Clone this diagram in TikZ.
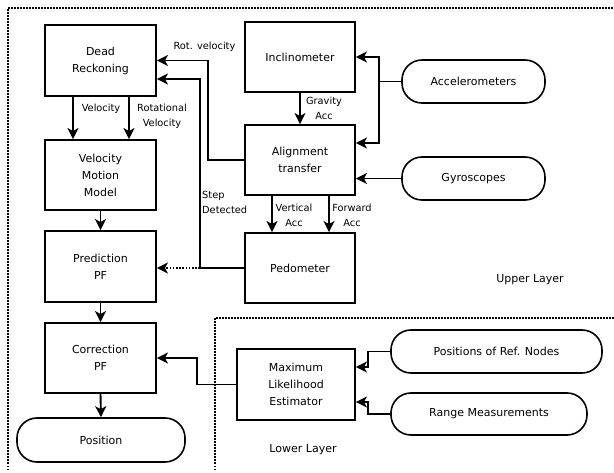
\documentclass[tikz,border=0pt]{standalone}
\usepackage{fontspec}
\setmainfont{DejaVu Sans}
\usetikzlibrary{arrows.meta,shapes.misc}
\begin{document}
\begin{tikzpicture}[x=1pt,y=-1pt,
  box/.style={draw,line width=1.9pt,inner sep=0pt,align=center,font=\fontsize{11}{17}\selectfont},
  pill/.style={draw,line width=1.6pt,rounded corners=20pt,inner sep=0pt,align=center,font=\fontsize{11}{17}\selectfont},
  lbl/.style={inner sep=0pt,align=center,font=\fontsize{9.8}{15}\selectfont},
  arr/.style={line width=1.9pt,-{Stealth[length=11pt,width=11pt,inset=3pt]}},
  con/.style={line width=1.9pt},
  layer/.style={line width=1.5pt,dash pattern=on 1.5pt off 1.5pt}]
\useasboundingbox (0,0) rectangle (614,473);
% layers
\draw[layer] (8,470) -- (8,8) -- (614,8);
\draw[layer] (215,470) -- (215,318) -- (614,318);
% nodes
\node[box,minimum width=111pt,minimum height=71pt] (DR) at (100.5,60.5) {Dead\\Reckoning};
\node[box,minimum width=111pt,minimum height=70pt] (VMM) at (100.5,175) {Velocity\\Motion\\Model};
\node[box,minimum width=111pt,minimum height=71pt] (Pred) at (100.5,266.5) {Prediction\\PF};
\node[box,minimum width=111pt,minimum height=70pt] (Corr) at (100.5,358) {Correction\\PF};
\node[pill,minimum width=168pt,minimum height=44pt] (Pos) at (101,440) {Position};
\node[box,minimum width=110pt,minimum height=70pt] (Incl) at (300,57) {Inclinometer};
\node[box,minimum width=110pt,minimum height=70pt] (Align) at (300,160) {Alignment\\transfer};
\node[box,minimum width=110pt,minimum height=70pt] (Pedo) at (300,268) {Pedometer};
\node[box,minimum width=118pt,minimum height=71pt] (MLE) at (296,384.5) {Maximum\\Likelihood\\Estimator};
\node[pill,minimum width=143pt,minimum height=43pt] (Acc) at (473.5,81.5) {Accelerometers};
\node[pill,minimum width=143pt,minimum height=43pt] (Gyro) at (473.5,178.5) {Gyroscopes};
\node[pill,minimum width=211pt,minimum height=43pt] (PRef) at (496.5,351.5) {Positions of Ref. Nodes};
\node[pill,minimum width=196pt,minimum height=42pt] (Range) at (489,414) {Range Measurements};
% labels
\node[lbl] (lvel) at (101,109) {Velocity};
\node[lbl] (lrot) at (162,116) {Rotational\\Velocity};
\node[lbl] (lrv) at (204.5,47) {Rot. velocity};
\node[lbl,anchor=west,align=left] (lstep) at (202,202) {Step\\Detected};
\node[lbl] (lgrav) at (324,108) {Gravity\\Acc};
\node[lbl] (lvert) at (294,215) {Vertical\\Acc};
\node[lbl] (lfwd) at (352,215) {Forward\\Acc};
\node[font=\fontsize{11}{13}\selectfont] (up) at (530,280) {Upper Layer};
\node[font=\fontsize{11}{13}\selectfont] (low) at (303,450) {Lower Layer};
% connectors
\draw[arr] ([xshift=-27.5pt]DR.south) -- ([xshift=-27.5pt]VMM.north);
\draw[arr] ([xshift=28.5pt]DR.south) -- ([xshift=28.5pt]VMM.north);
\draw[arr] (VMM.south) -- (Pred.north);
\draw[arr] (Pred.south) -- (Corr.north);
\draw[arr] (Corr.south) -- (Pos.north);
\draw[arr] (Align.west) -- ++(-36,0) |- (DR.east);
\coordinate (sd) at (200,268);
\draw[arr] (Pedo.west) -- (sd) |- ([yshift=-18.5pt]DR.east);
\draw[arr,dash pattern=on 1.6pt off 1.6pt] (sd) -- (sd -| Pred.east);
\draw[arr] (Incl.south) -- (Align.north);
\draw[arr] ([xshift=-28pt]Align.south) -- ([xshift=-28pt]Pedo.north);
\draw[arr] ([xshift=29pt]Align.south) -- ([xshift=29pt]Pedo.north);
\coordinate (ja) at (379,81.5);
\draw[con] (Acc.west) -- (ja);
\draw[arr] (ja) |- (Incl.east);
\draw[arr] (ja) |- ([yshift=17pt]Align.east);
\draw[arr] (Gyro.west) -- (Gyro.west -| Align.east);
\draw[arr] (MLE.west) -- ++(-39,0) |- (Corr.east);
\draw[arr] (PRef.west) -- ++(-22,0) |- ([yshift=17.5pt]MLE.east);
\draw[arr] (Range.west) -- ++(-22,0) |- ([yshift=-17.5pt]MLE.east);
\end{tikzpicture}
\end{document}
